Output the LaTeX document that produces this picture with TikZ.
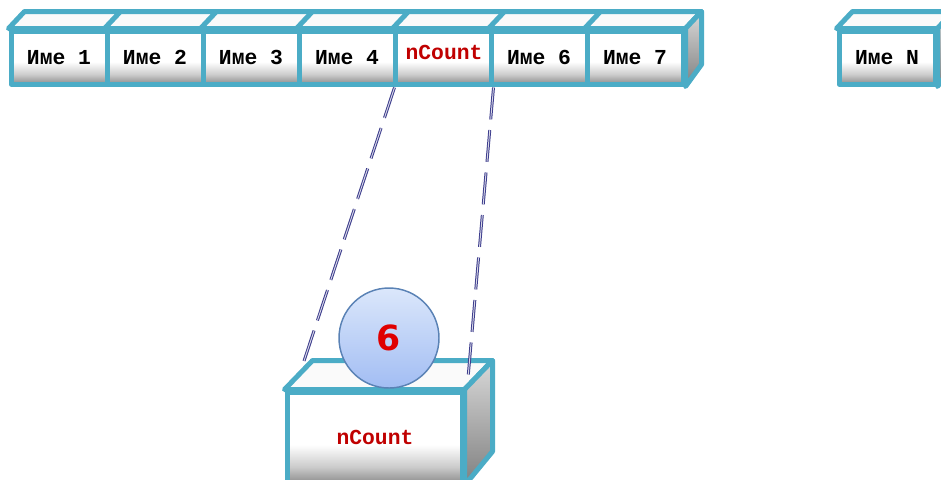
\documentclass[tikz,border=0pt]{standalone}
\usepackage{fontspec}
\usetikzlibrary{calc}
\newfontfamily\courfont{Liberation Mono}
\newfontfamily\dejafont{DejaVu Sans}
\definecolor{cubeedge}{HTML}{4BACC6}
\definecolor{labelred}{HTML}{C00000}
\definecolor{sixred}{HTML}{E00000}
\definecolor{dashblue}{HTML}{3C3C8C}
\definecolor{ballrim}{HTML}{5A82B5}
\definecolor{balltop}{HTML}{DBE7FB}
\definecolor{ballbottom}{HTML}{A2BDF3}
\pgfdeclareverticalshading{frontface}{100bp}{color(0bp)=(black!45); color(25bp)=(black!45); color(34bp)=(black!20); color(46bp)=(white); color(100bp)=(white)}
\pgfdeclareverticalshading{sideface}{100bp}{color(0bp)=(black!50); color(25bp)=(black!50); color(75bp)=(black!15); color(100bp)=(black!15)}
\tikzset{
  frontbox/.style={draw=cubeedge, line width=3.75pt, shading=frontface, inner sep=0pt,
    minimum width=72pt, minimum height=39.75pt, line join=round,
    font=\courfont\bfseries\fontsize{16}{17}\selectfont},
  bigbox/.style={frontbox, minimum width=131.25pt, minimum height=68.25pt},
  topface/.style={draw=cubeedge, line width=3.75pt, fill=white!98!black, line join=round},
  sidefacestyle/.style={draw=cubeedge, line width=3.75pt, shading=sideface, line join=round},
  redlabel/.style={font=\courfont\bfseries\fontsize{16}{17}\selectfont, text=labelred},
  ball/.style={circle, minimum size=75pt, inner sep=0pt, draw=ballrim, line width=1.1pt,
    top color=balltop, bottom color=ballbottom},
  link/.style={draw=dashblue, line width=0.75pt, double=white!80!dashblue, double distance=0.7pt,
    dash pattern=on 24pt off 8pt}
}
\begin{document}
\begin{tikzpicture}[x=0.75pt, y=-0.75pt]
\useasboundingbox (0,0) rectangle (941,479);
\clip (0,0) rectangle (941,479);
% top row
\node[frontbox] (b1) at (59,57.5) {Име 1};
\node[frontbox] (b2) at (155,57.5) {Име 2};
\node[frontbox] (b3) at (251,57.5) {Име 3};
\node[frontbox] (b4) at (347,57.5) {Име 4};
\node[frontbox] (nc) at (443,57.5) {};
\node[redlabel] (nctext) at (444,52) {nCount};
\node[frontbox] (b6) at (539,57.5) {Име 6};
\node[frontbox] (b7) at (635,57.5) {Име 7};
\node[frontbox] (bN) at (887,57.5) {Име N};
\foreach \n in {b1,b2,b3,b4,nc,b6,b7,bN}
  \draw[topface] (\n.north west) -- ++(16,-17) -- ($(\n.north east)+(16,-17)$) -- (\n.north east) -- cycle;
\draw[sidefacestyle] (b7.north east) -- ++(16,-17) -- ++(0,53) -- (b7.south east) -- cycle;
\draw[sidefacestyle] (bN.north east) -- ++(16,-17) -- ++(0,53) -- (bN.south east) -- cycle;
% bottom box
\node[bigbox] (bb) at (374.5,437.5) {};
\node[redlabel] (bbtext) at (375,437) {nCount};
\draw[topface] (bb.north west) -- ++(28,-29) -- ($(bb.north east)+(28,-29)$) -- (bb.north east) -- cycle;
\draw[sidefacestyle] (bb.north east) -- ++(28,-29) -- ++(0,91) -- (bb.south east) -- cycle;
% ball
\node[ball] (val) at (389,338) {};
\node[font=\dejafont\bfseries\fontsize{26}{28}\selectfont, text=sixred] (six) at (389,338) {6};
% links
\coordinate (lend) at (303,364);
\coordinate (rend) at (468,378);
\draw[link] ($(nc.south west)+(2,1)$) -- (lend);
\draw[link] ($(nc.south east)+(0,1)$) -- (rend);
\end{tikzpicture}
\end{document}
